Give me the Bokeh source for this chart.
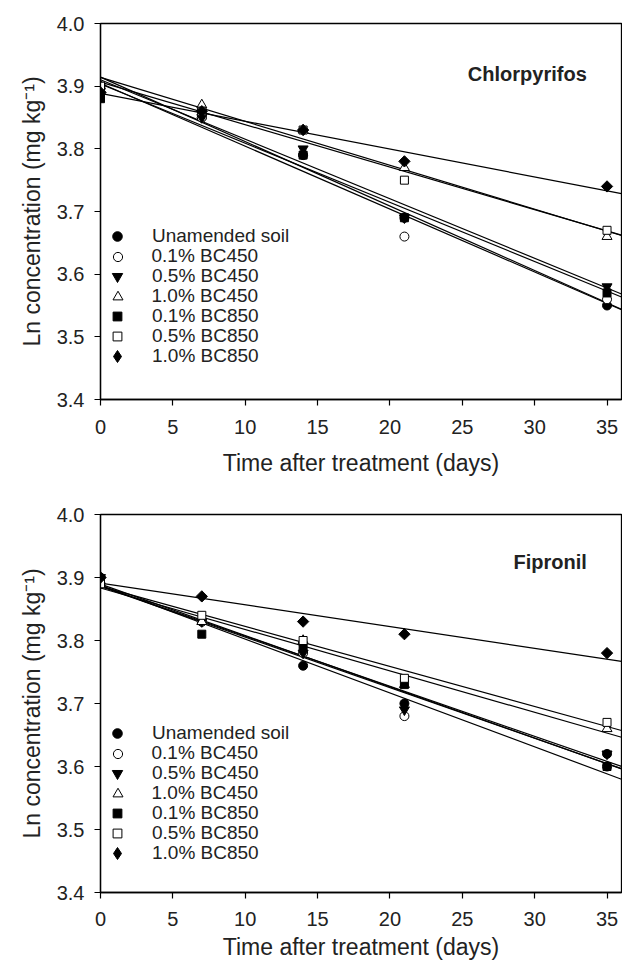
import math
import numpy as np
from bokeh.plotting import figure
from bokeh.layouts import column
from bokeh.models import Legend, LegendItem, Label, FixedTicker, NumeralTickFormatter, Range1d
from bokeh.embed import file_html
from bokeh.resources import INLINE

# ---------------- data ----------------
days = [0, 7, 14, 21, 35]
series_names = ["Unamended soil", "0.1% BC450", "0.5% BC450", "1.0% BC450",
                "0.1% BC850", "0.5% BC850", "1.0% BC850"]

# Chlorpyrifos (Ln concentration, mg kg-1)
chl_unamended = [3.90, 3.85, 3.79, 3.69, 3.55]
chl_bc450_01 = [3.89, 3.85, 3.79, 3.66, 3.56]
chl_bc450_05 = [3.90, 3.85, 3.80, 3.69, 3.58]
chl_bc450_10 = [3.90, 3.87, 3.83, 3.77, 3.66]
chl_bc850_01 = [3.88, 3.86, 3.79, 3.69, 3.57]
chl_bc850_05 = [3.90, 3.86, 3.83, 3.75, 3.67]
chl_bc850_10 = [3.89, 3.86, 3.83, 3.78, 3.74]

# Fipronil (Ln concentration, mg kg-1)
fip_unamended = [3.90, 3.83, 3.76, 3.70, 3.62]
fip_bc450_01 = [3.89, 3.83, 3.78, 3.68, 3.60]
fip_bc450_05 = [3.90, 3.83, 3.78, 3.69, 3.62]
fip_bc450_10 = [3.89, 3.83, 3.80, 3.73, 3.66]
fip_bc850_01 = [3.89, 3.81, 3.79, 3.73, 3.60]
fip_bc850_05 = [3.89, 3.84, 3.80, 3.74, 3.67]
fip_bc850_10 = [3.90, 3.87, 3.83, 3.81, 3.78]

x_ticks = [0, 5, 10, 15, 20, 25, 30, 35]
y_ticks = [3.4, 3.5, 3.6, 3.7, 3.8, 3.9, 4.0]
x_max = 36

FONT = "Liberation Sans"
TXT = "#222222"

# marker styles per series: (data marker, size, fill, angle, legend marker, legend glyph box)
styles = [
    ("circle", 9, "black", 0.0, "circle", 24),
    ("circle", 9, "white", 0.0, "circle", 23),
    ("inverted_triangle", 10, "black", 0.0, "inverted_triangle", 26),
    ("triangle", 10, "white", 0.0, "triangle", 25),
    ("square", 8, "black", 0.0, "square", 22),
    ("square", 8, "white", 0.0, "square", 22),
    ("square", 8, "black", math.pi / 4, "diamond", 30),
]


def make_panel(title, series, frame_h, b_top, b_bottom, row1_from_bottom,
               tick_std, label_std, title_y):
    p = figure(frame_width=521, frame_height=frame_h,
               min_border_left=100, min_border_right=1,
               min_border_top=b_top, min_border_bottom=b_bottom,
               x_range=Range1d(0, x_max), y_range=Range1d(3.4, 4.0),
               output_backend="svg", toolbar_location=None,
               background_fill_color="white", border_fill_color="white")
    p.grid.visible = False
    p.outline_line_color = "black"
    p.outline_line_width = 1.3

    for ax in (p.xaxis[0], p.yaxis[0]):
        ax.axis_line_color = "black"
        ax.axis_line_width = 1.3
        ax.major_tick_line_color = "black"
        ax.major_tick_line_width = 1.2
        ax.major_tick_out = 6
        ax.major_tick_in = 0
        ax.minor_tick_line_color = None
        ax.major_label_text_font = FONT
        ax.major_label_text_font_size = "20px"
        ax.major_label_text_color = TXT
        ax.axis_label_text_font = FONT
        ax.axis_label_text_font_size = "23px"
        ax.axis_label_text_font_style = "normal"
        ax.axis_label_text_color = TXT

    p.xaxis.ticker = FixedTicker(ticks=x_ticks)
    p.yaxis.ticker = FixedTicker(ticks=y_ticks)
    p.yaxis.formatter = NumeralTickFormatter(format="0.0")
    p.xaxis.axis_label = "Time after treatment (days)"
    p.yaxis.axis_label = "Ln concentration (mg kg\u207b\u00b9)"
    p.xaxis.major_label_standoff = tick_std
    p.yaxis.major_label_standoff = 10
    p.xaxis.axis_label_standoff = label_std
    p.yaxis.axis_label_standoff = 9

    # regression lines (least squares fit of each series)
    for vals in series:
        m, b = np.polyfit(days, vals, 1)
        p.line(x=[days[0], x_max], y=[b, b + m * x_max], line_color="black", line_width=1.2)

    # markers + one legend per row (allows per-row marker size)
    for i, (name, vals, st) in enumerate(zip(series_names, series, styles)):
        mk, sz, fill, ang, lmk, g = st
        p.scatter(x=days, y=vals, marker=mk, size=sz, angle=ang,
                  fill_color=fill, line_color="black", line_width=1.0)
        # hidden twin of the series, used only to draw the legend glyph
        lr = p.scatter(x=days, y=vals, marker=lmk, size=sz,
                       fill_color=fill, line_color="black", line_width=1.0,
                       visible=False)
        centre = row1_from_bottom - 20 * i
        leg = Legend(items=[LegendItem(label=name, renderers=[lr])],
                     location=(17 - g / 2, centre - g / 2),
                     border_line_color=None, background_fill_alpha=0,
                     padding=0, margin=0, spacing=0,
                     glyph_height=g, glyph_width=g, label_height=g,
                     label_standoff=int(35 - g / 2), label_text_font=FONT,
                     label_text_font_size="19px", label_text_color=TXT)
        p.add_layout(leg)

    p.add_layout(Label(x=33.6, y=title_y, text=title, text_font=FONT,
                       text_font_size="20px", text_font_style="bold",
                       text_color=TXT, text_align="right", text_baseline="middle"))
    return p


p1 = make_panel("Chlorpyrifos",
                [chl_unamended, chl_bc450_01, chl_bc450_05, chl_bc450_10,
                 chl_bc850_01, chl_bc850_05, chl_bc850_10],
                376, 23, 85, 163, 14, 13, 3.920)
p2 = make_panel("Fipronil",
                [fip_unamended, fip_bc450_01, fip_bc450_05, fip_bc450_10,
                 fip_bc850_01, fip_bc850_05, fip_bc850_10],
                378, 30, 73, 159, 13, 5, 3.924)

layout = column(p1, p2, spacing=0)
open("out.html", "w").write(file_html(layout, INLINE))
